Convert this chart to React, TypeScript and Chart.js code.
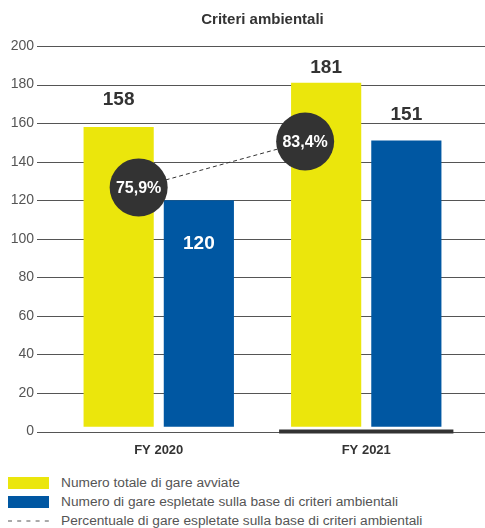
import React, { useEffect, useRef } from "react";
import { Chart, registerables } from "chart.js";

Chart.register(...registerables);

// ---- data ----
const categories = ["FY 2020", "FY 2021"];
const totalTenders = [158, 181];
const greenTenders = [120, 151];
const greenShare = [75.9, 83.4];
const shareLabels = ["75,9%", "83,4%"];
const yTicks = [0, 20, 40, 60, 80, 100, 120, 140, 160, 180, 200];
const chartTitle = "Criteri ambientali";
const seriesNames = [
  "Numero totale di gare avviate",
  "Numero di gare espletate sulla base di criteri ambientali",
  "Percentuale di gare espletate sulla base di criteri ambientali",
];

// ---- styles ----
const FONT = "'Liberation Sans', Arial, Helvetica, sans-serif";
const YELLOW = "#EBE60C";
const BLUE = "#0057A2";
const DARK = "#333333";
const GREY = "#555555";
const GRID_LEFT = 37;
const totalLabelOffsets = [-27, -15];
const greenLabelOffsets = [44, -26];
const greenLabelColors = ["#ffffff", DARK];
const circleXOffsets = [20, -21];
const CIRCLE_R = 29;
const highlightIndex = 1;

const decorPlugin = {
  id: "decor",
  beforeDatasetsDraw(chart: any) {
    const ctx = chart.ctx;
    const y = chart.scales.y;
    ctx.save();
    ctx.strokeStyle = GREY;
    ctx.lineWidth = 1;
    for (const t of yTicks) {
      const py = Math.round(y.getPixelForValue(t)) + 0.5;
      ctx.beginPath();
      ctx.moveTo(GRID_LEFT, py);
      ctx.lineTo(chart.width, py);
      ctx.stroke();
    }
    ctx.restore();
  },
  afterDatasetsDraw(chart: any) {
    const ctx = chart.ctx;
    const x = chart.scales.x;
    const y = chart.scales.y;
    ctx.save();
    // highlight bar under current year
    const catW = chart.chartArea.width / categories.length;
    const cx = x.getPixelForValue(highlightIndex);
    const y0 = y.getPixelForValue(0);
    ctx.strokeStyle = DARK;
    ctx.lineWidth = 4;
    ctx.beginPath();
    ctx.moveTo(cx - catW * 0.42, y0);
    ctx.lineTo(cx + catW * 0.42, y0);
    ctx.stroke();

    // value labels
    const m0 = chart.getDatasetMeta(0);
    const m1 = chart.getDatasetMeta(1);
    const m2 = chart.getDatasetMeta(2);
    ctx.font = `bold 19px ${FONT}`;
    ctx.textAlign = "center";
    ctx.textBaseline = "middle";
    m0.data.forEach((el: any, i: number) => {
      ctx.fillStyle = DARK;
      ctx.fillText(String(totalTenders[i]), el.x, el.y + totalLabelOffsets[i]);
    });
    m1.data.forEach((el: any, i: number) => {
      ctx.fillStyle = greenLabelColors[i];
      ctx.fillText(String(greenTenders[i]), el.x, el.y + greenLabelOffsets[i]);
    });

    // percentage line + circles
    const pts = m2.data.map((el: any, i: number) => ({
      x: m0.data[i].x + circleXOffsets[i],
      y: el.y,
    }));
    ctx.strokeStyle = DARK;
    ctx.lineWidth = 1;
    ctx.setLineDash([4, 3]);
    ctx.beginPath();
    pts.forEach((p: any, i: number) => (i ? ctx.lineTo(p.x, p.y) : ctx.moveTo(p.x, p.y)));
    ctx.stroke();
    ctx.setLineDash([]);
    pts.forEach((p: any, i: number) => {
      ctx.fillStyle = DARK;
      ctx.beginPath();
      ctx.arc(p.x, p.y, CIRCLE_R, 0, Math.PI * 2);
      ctx.fill();
      ctx.fillStyle = "#ffffff";
      ctx.font = `bold 16px ${FONT}`;
      ctx.fillText(shareLabels[i], p.x, p.y + 1);
    });
    ctx.restore();
  },
};

export default function App() {
  const ref = useRef<HTMLCanvasElement | null>(null);

  useEffect(() => {
    if (!ref.current) return;
    const chart = new Chart(ref.current, {
      type: "bar",
      data: {
        labels: categories,
        datasets: [
          {
            label: seriesNames[0],
            data: totalTenders,
            backgroundColor: YELLOW,
            barPercentage: 0.875,
            categoryPercentage: 0.773,
            base: 2.5,
          } as any,
          {
            label: seriesNames[1],
            data: greenTenders,
            backgroundColor: BLUE,
            barPercentage: 0.875,
            categoryPercentage: 0.773,
            base: 2.5,
          } as any,
          {
            type: "line",
            label: seriesNames[2],
            data: greenShare,
            yAxisID: "y2",
            borderWidth: 0,
            pointRadius: 0,
            showLine: false,
          } as any,
        ],
      },
      options: {
        animation: false,
        responsive: true,
        maintainAspectRatio: false,
        layout: { padding: { left: 0, right: 15, top: 0, bottom: 0 } },
        plugins: {
          legend: { display: false },
          tooltip: { enabled: false },
          title: {
            display: true,
            text: chartTitle,
            fullSize: false,
            color: DARK,
            font: { family: FONT, size: 15, weight: "bold" },
            padding: { top: 11, bottom: 17 },
          },
        },
        scales: {
          x: {
            grid: { display: false, drawTicks: false },
            border: { display: false },
            afterFit: (s: any) => {
              s.height = 27;
            },
            ticks: {
              color: DARK,
              padding: 11,
              font: { family: FONT, size: 13, weight: "bold" },
            },
          },
          y: {
            min: 0,
            max: 200,
            grid: { display: false, drawTicks: false },
            border: { display: false },
            afterBuildTicks: (s: any) => {
              s.ticks = yTicks.map((v) => ({ value: v }));
            },
            afterFit: (s: any) => {
              s.width = 55;
            },
            ticks: {
              color: GREY,
              padding: 21,
              font: { family: FONT, size: 14 },
            },
          },
          y2: {
            display: false,
            min: 36,
            max: 99,
          },
        },
      },
      plugins: [decorPlugin],
    });
    return () => chart.destroy();
  }, []);

  const rowText: React.CSSProperties = {
    position: "absolute",
    left: 61,
    fontFamily: FONT,
    fontSize: 13.7,
    color: GREY,
    lineHeight: "16px",
    whiteSpace: "nowrap",
  };

  return (
    <div style={{ position: "absolute", left: 0, top: 0, width: 485, height: 528, overflow: "hidden", background: "#fff" }}>
      <div style={{ position: "absolute", left: 0, top: 0, width: 485, height: 461 }}>
        <canvas ref={ref} />
      </div>
      <div style={{ position: "absolute", left: 8, top: 477, width: 41, height: 12, background: YELLOW }} />
      <div style={{ ...rowText, top: 475 }}>{seriesNames[0]}</div>
      <div style={{ position: "absolute", left: 8, top: 496, width: 41, height: 12, background: BLUE }} />
      <div style={{ ...rowText, top: 494 }}>{seriesNames[1]}</div>
      <svg style={{ position: "absolute", left: 8, top: 516 }} width={42} height={10}>
        <line x1={0} y1={5} x2={42} y2={5} stroke={GREY} strokeWidth={1} strokeDasharray="4 5.2" />
      </svg>
      <div style={{ ...rowText, top: 513 }}>{seriesNames[2]}</div>
    </div>
  );
}
